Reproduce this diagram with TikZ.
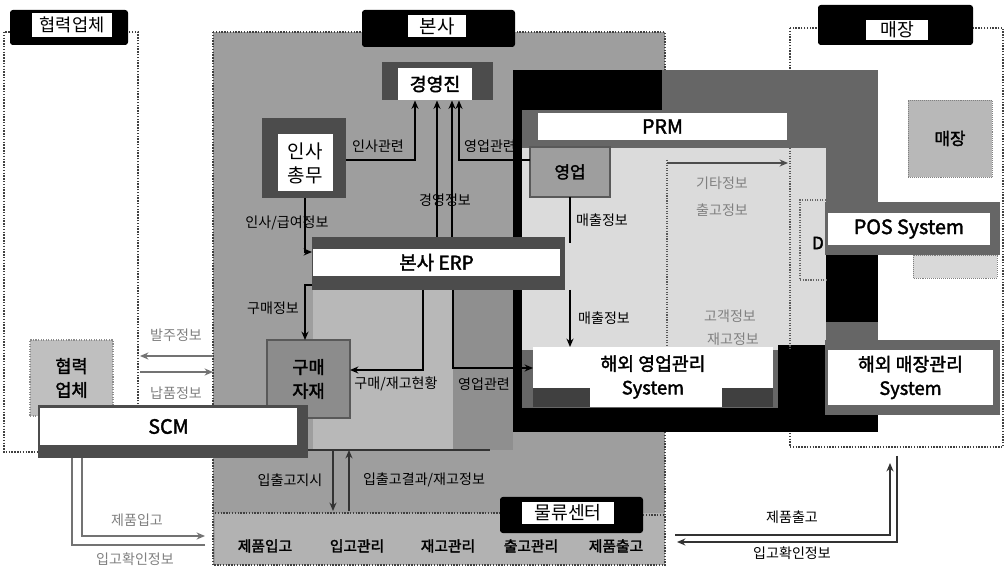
\documentclass[tikz,border=0pt]{standalone}
\usepackage{fontspec}
\newfontfamily\kr{Noto Sans CJK KR}[AutoFakeBold=2]
\usetikzlibrary{arrows.meta}
\def\pxu{0.025cm}
\tikzset{
  sz/.style 2 args={minimum width=#1*\pxu,minimum height=#2*\pxu,inner sep=0pt,outer sep=0pt},
  tabout/.style={fill=black,rounded corners=2pt},
  tabin/.style={fill=white,align=center},
  region/.style={draw=black!75,densely dotted,line width=1pt},
  dark/.style={fill=black!70},
  wbox/.style={fill=white,align=center},
  gbox/.style={fill=black!38,draw=black!65,line width=0.8pt,align=center},
  lbl/.style={font=\kr\fontsize{10}{12}\selectfont,inner sep=1pt},
  flbl/.style={lbl,text=black!50},
  blbl/.style={font=\kr\bfseries\fontsize{10.5}{12}\selectfont,inner sep=1pt},
  con/.style={draw=black,line width=1.3pt},
  fcon/.style={draw=black!55,line width=0.9pt},
  ah/.style={-{Stealth[length=6pt,width=5pt]}},
}
\begin{document}
\begin{tikzpicture}[x=0.025cm,y=-0.025cm]
\useasboundingbox (0,0) rectangle (1008,570);
\fill[white] (0,0) rectangle (1008,570);

% ---- regions
\draw[region] (4,32) rectangle (138,452);
\draw[region] (790,28) rectangle (1003,447);
\fill[black!38] (213,32) rectangle (665,565);
\fill[black!28] (313,290) rectangle (453,450);
\fill[black!44] (453,290) rectangle (513,450);
\fill[black!30] (215,513) rectangle (665,565);
\draw[region] (213,32) rectangle (665,565);
\draw[region] (215,513) -- (500,513);

% ---- PRM area
\fill[black!60] (513,70) rectangle (878,432);
\fill[black] (513,70) rectangle (662,110);
\fill[black] (513,70) rectangle (522,432);
\fill[black] (513,408) rectangle (878,432);
\fill[black!14] (522,148) rectangle (826,350);
\fill[black] (778,345) rectangle (826,410);
\fill[black] (826,250) rectangle (878,322);
\draw[densely dotted,black!65,line width=0.8pt] (667,160) -- (667,347);
\draw[densely dotted,black!65,line width=0.8pt] (790,148) -- (790,350);
\draw[densely dotted,black!60,line width=0.8pt] (826,200) -- (800,200) -- (800,280) -- (826,280);
\fill[black!15] (913,255) rectangle (997,278);
\draw[densely dotted,black!50] (913,255) rectangle (997,278);

% ---- title tabs
\node[tabout,sz={118}{35}] (tabA) at (69,27.5) {};
\node[tabin,sz={80}{24},font=\kr\fontsize{12.5}{14}\selectfont] (tabAt) at (72,25) {협력업체};
\node[tabout,sz={153}{37}] (tabB) at (438.5,28.5) {};
\node[tabin,sz={58}{22},font=\kr\fontsize{13.5}{15}\selectfont] (tabBt) at (437,26) {본사};
\node[tabout,sz={155}{40}] (tabC) at (895.5,25) {};
\node[tabin,sz={62}{20},font=\kr\fontsize{13}{15}\selectfont] (tabCt) at (897,30) {매장};
\node[tabout,sz={143}{36}] (tabD) at (571.5,515) {};
\node[tabin,sz={92}{22},font=\kr\fontsize{13}{15}\selectfont] (tabDt) at (568,513) {물류센터};
\draw[region] (tabD.east) -- (665,515);

% ---- boxes
\node[dark,sz={111}{38}] (gy) at (437.5,81.5) {};
\node[wbox,sz={74}{32},font=\kr\bfseries\fontsize{13}{15}\selectfont] (gyt) at (435,84) {경영진};
\node[dark,sz={84}{80}] (insa) at (304,158) {};
\node[wbox,sz={55}{57},font=\kr\fontsize{13.5}{17}\selectfont] (insat) at (305,163) {인사\\총무};
\node[gbox,sz={80}{50},font=\kr\bfseries\fontsize{12}{14}\selectfont] (yu) at (570,172) {영업};
\node[gbox,fill=black!45,sz={83}{78},font=\kr\bfseries\fontsize{12.5}{17}\selectfont] (gm2) at (308.5,379) {구매\\자재};
\node[gbox,fill=black!25,draw=black!45,densely dotted,sz={83}{76},font=\kr\bfseries\fontsize{12.5}{17}\selectfont] (hp) at (71.5,378) {협력\\업체};
\node[fill=black!28,draw=black!50,densely dotted,sz={84}{77},font=\kr\bfseries\fontsize{12}{14}\selectfont] (gm) at (950,138.5) {매장};
\node[font=\kr\bfseries\fontsize{12}{14}\selectfont,inner sep=0pt] (dch) at (818,243) {D};

% ---- system bars
\node[dark,sz={253}{53}] (erp) at (438.5,263.5) {};
\node[wbox,sz={247}{27},font=\kr\bfseries\fontsize{13.5}{16}\selectfont] (erpt) at (436.5,262.5) {본사 ERP};
\node[dark,sz={270}{53}] (scm) at (173,431.5) {};
\node[wbox,sz={257}{37},font=\kr\bfseries\fontsize{14}{16}\selectfont] (scmt) at (168.5,426.5) {SCM};
\node[wbox,sz={249}{27},font=\kr\bfseries\fontsize{14}{16}\selectfont] (prm) at (662.5,126.5) {PRM};
\node[fill=black!60,sz={175}{53}] (pos) at (912.5,228.5) {};
\node[wbox,sz={162}{32},font=\kr\bfseries\fontsize{14}{16}\selectfont] (post) at (909,229) {POS System};
\node[wbox,sz={240}{60},font=\kr\bfseries\fontsize{13}{17}\selectfont] (hy) at (653,377) {해외 영업관리\\System};
\fill[black!75] (533,388) rectangle (590,407);
\fill[black!75] (722,388) rectangle (773,407);
\node[fill=black!60,sz={175}{75}] (hm) at (912.5,377.5) {};
\node[wbox,sz={165}{55},font=\kr\bfseries\fontsize{13}{17}\selectfont] (hmt) at (910.5,377.5) {해외 매장관리\\System};

% ---- connectors in 본사
\coordinate (c1) at (415,160);
\draw[con,ah] (insa.east |- c1) -- (c1) -- (c1 |- gy.south);
\coordinate (m1) at (437,0);
\coordinate (m2) at (452,0);
\draw[con,ah] (m1 |- erp.north) -- (m1 |- gy.south);
\draw[con,ah] (m2 |- erp.north) -- (m2 |- gy.south);
\coordinate (c2) at (459,160);
\draw[con,ah] (yu.west |- c2) -- (c2) -- (c2 |- gy.south);
\coordinate (c3) at (305,252);
\draw[con,ah] (c3 |- insa.south) -- (c3) -- (c3 -| erp.west);
\coordinate (c4) at (305,285);
\draw[con,ah] (c4 -| erp.west) -- (c4) -- (c4 |- gm2.north);
\coordinate (c5) at (423,370);
\draw[con,ah] (c5 |- erp.south) -- (c5) -- (c5 -| gm2.east);
\coordinate (c6) at (453,368);
\draw[con,ah] (c6 |- erp.south) -- (c6) -- (c6 -| hy.west);
\coordinate (c7) at (570,243);
\draw[con] (c7 |- yu.south) -- (c7);
\draw[con,ah] (c7 |- erp.south) -- (c7 |- hy.north);
\coordinate (c8) at (667,163);
\coordinate (c9) at (788,163);
\draw[fcon,draw=black!70,ah] (c8) -- (c9);

% ---- 협력업체 <-> 본사
\coordinate (b1) at (213,356);
\coordinate (b2) at (140,356);
\coordinate (b3) at (140,372);
\coordinate (b4) at (213,372);
\draw[fcon,ah] (b1) -- (b2);
\draw[fcon,ah] (b3) -- (b4);

% ---- SCM <-> 물류센터
\coordinate (s1) at (82,536);
\coordinate (s2) at (205,536);
\coordinate (s3) at (72,545);
\coordinate (s4) at (205,545);
\draw[fcon,ah] (s1 |- scm.south) -- (s1) -- (s2);
\draw[fcon] (s4) -- (s3) -- (s3 |- scm.south);
\coordinate (d0) at (308,450);
\coordinate (d5) at (490,450);
\coordinate (d1) at (333,450);
\coordinate (d2) at (333,511);
\coordinate (d3) at (349,511);
\coordinate (d4) at (349,450);
\draw[fcon,draw=black!80] (d0) -- (d5);
\draw[fcon,draw=black!80,ah] (d1) -- (d2);
\draw[fcon,draw=black!80,ah] (d3) -- (d4);

% ---- 물류센터 <-> 매장
\coordinate (r1) at (675,535);
\coordinate (r2) at (890,535);
\coordinate (r3) at (890,463);
\coordinate (r4) at (897,456);
\coordinate (r5) at (897,542);
\coordinate (r6) at (677,542);
\draw[fcon,draw=black!80,ah] (r1) -- (r2) -- (r3);
\draw[fcon,draw=black!80,ah] (r4) -- (r5) -- (r6);

% ---- labels
\node[lbl] (l1) at (378,146) {인사관련};
\node[lbl] (l2) at (490,146) {영업관련};
\node[lbl] (l3) at (445,200) {경영정보};
\node[lbl] (l4) at (287,223) {인사/급여정보};
\node[lbl] (l5) at (273,308) {구매정보};
\node[lbl] (l6) at (396,384) {구매/재고현황};
\node[lbl] (l7) at (484,384) {영업관련};
\node[lbl] (l8) at (602,220) {매출정보};
\node[lbl] (l9) at (604,318) {매출정보};
\node[flbl] (l10) at (722,183) {기타정보};
\node[flbl] (l11) at (722,210) {출고정보};
\node[flbl] (l12) at (730,316) {고객정보};
\node[flbl] (l13) at (733,339) {재고정보};
\node[flbl] (l14) at (176,335) {발주정보};
\node[flbl] (l15) at (176,393) {납품정보};
\node[flbl] (l16) at (137,520) {제품입고};
\node[flbl] (l17) at (135,559) {입고확인정보};
\node[lbl] (l18) at (290,480) {입출고지시};
\node[lbl] (l19) at (424,480) {입출고결과/재고정보};
\node[lbl] (l20) at (792,517) {제품출고};
\node[lbl] (l21) at (792,553) {입고확인정보};
\node[blbl] (w1) at (265,546) {제품입고};
\node[blbl] (w2) at (357,546) {입고관리};
\node[blbl] (w3) at (448,546) {재고관리};
\node[blbl] (w4) at (531,546) {출고관리};
\node[blbl] (w5) at (616,546) {제품출고};
\end{tikzpicture}
\end{document}
